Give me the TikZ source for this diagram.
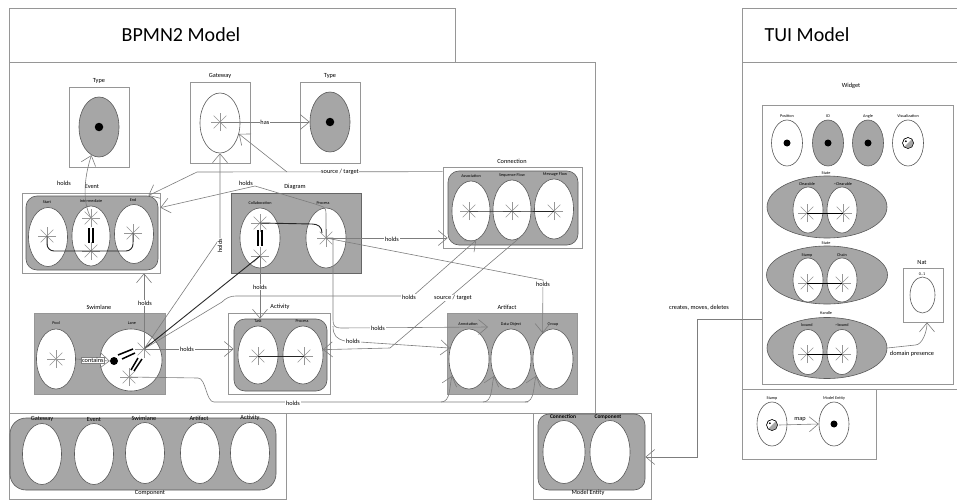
\documentclass[tikz,border=0pt]{standalone}
\usepackage{fontspec}
\setmainfont{Carlito}
\usetikzlibrary{arrows.meta,positioning,shapes.geometric,calc}
\definecolor{blobgray}{RGB}{166,166,166}
\definecolor{framegray}{RGB}{150,150,150}
\definecolor{linkgray}{RGB}{125,125,125}
\tikzset{
  spark/.pic={\foreach \r in {0,45,90,135}
    \draw[linkgray!80,line width=0.4pt] (\r:9) -- (\r+180:9);},
  stampico/.pic={
    \draw[fill=white,line width=0.4pt] (0,0) circle (5.5);
    \begin{scope}\clip (0,0) circle (5.5);
      \fill[blobgray] (-7,7) -- (7,-7) -- (7,7) -- cycle;\end{scope}
    \draw[line width=0.4pt] (0,0) circle (5.5);
    \fill (-2.2,-1.8) circle (1);}
}
\begin{document}
\begin{tikzpicture}[x=1pt,y=-1pt,font=\fontsize{6.3}{7.5}\selectfont,
  bx/.style={draw=framegray,line width=0.7pt,inner sep=0pt},
  gbx/.style={bx,fill=blobgray},
  blob/.style={draw=black!65,fill=blobgray,rounded corners=11pt,line width=0.6pt,inner sep=0pt},
  el/.style 2 args={ellipse,draw=black!65,fill=white,line width=0.6pt,inner sep=0pt,minimum width=#1,minimum height=#2},
  gel/.style 2 args={el={#1}{#2},fill=blobgray},
  blk/.style={circle,fill=black,inner sep=0pt,minimum size=#1},
  sm/.style={font=\fontsize{4.2}{5}\selectfont,inner sep=0.5pt},
  ttl/.style={font=\fontsize{20}{24}\selectfont},
  hl/.style={fill=white,inner sep=0.6pt},
  a/.style={draw=linkgray,line width=0.6pt,-{Straight Barb[length=9pt,width=15pt,line width=0.6pt]}},
  c/.style={draw=linkgray,line width=0.6pt},
  k/.style={draw=black!85,line width=0.9pt},
  bar/.style={draw=black,line width=1.5pt}]
\useasboundingbox (0,0) rectangle (957,500);

% frames
\node[bx,minimum width=446,minimum height=54] (bpHead) at (232,35) {};
\node[ttl] (bpTitle) at (181,35) {BPMN2 Model};
\node[bx,minimum width=586,minimum height=351] (bpBox) at (302,237.5) {};
\node[bx,minimum width=277,minimum height=86] (cmpBox) at (147.5,456) {};
\node[bx,minimum width=118,minimum height=86] (meBox) at (592,456) {};
\node[bx,minimum width=218,minimum height=54] (tuiHead) at (851,35) {};
\node[ttl] (tuiTitle) at (807,35) {TUI Model};
\node[bx,minimum width=218,minimum height=327] (tuiBox) at (851,225.5) {};
\node[bx,minimum width=191,minimum height=279] (wgBox) at (857.5,244.5) {};
\node (wgT) at (851,86) {Widget};
\node[bx,minimum width=134,minimum height=70] (stBox) at (809,424) {};

% Type / Gateway / Type
\node[bx,minimum width=60,minimum height=80] (tyBox) at (99,127) {};
\node (tyT) at (99,81) {Type};
\node[gel={40}{60}] (tyEl) at (99,127) {};
\node[blk=8.5] (tyDot) at (tyEl) {};
\node[bx,minimum width=60,minimum height=81] (gwBox) at (220,122.5) {};
\node (gwT) at (220,76) {Gateway};
\node[el={40}{60}] (gwEl) at (220,123) {};
\node[bx,minimum width=60,minimum height=81] (ty2Box) at (330,122.5) {};
\node (ty2T) at (330,76) {Type};
\node[gel={40}{60}] (ty2El) at (330,122) {};
\node[blk=8.5] (ty2Dot) at (ty2El) {};

% Event
\node[bx,minimum width=138,minimum height=80] (evBox) at (91,233) {};
\node (evT) at (92,187) {Event};
\node[blob,minimum width=132,minimum height=74] (evBlob) at (92,233) {};
\node[el={39}{59}] (evStart) at (48,237) {};
\node[el={38}{60}] (evInt) at (91,236) {};
\node[el={39}{59}] (evEnd) at (134,234) {};
\node[sm] (evStartT) at (47,202) {Start};
\node[sm] (evIntT) at (91,201) {Intermediate};
\node[sm] (evEndT) at (133,200) {End};

% Diagram
\node[bx,fill=blobgray,draw=black!60,minimum width=130,minimum height=80] (dgBox) at (296,233) {};
\node (dgT) at (295,187) {Diagram};
\node[el={40}{60}] (colEl) at (260,238) {};
\node[el={40}{60}] (procEl) at (326,238) {};
\node[sm] (colT) at (260,203) {Collaboration};
\node[sm] (procT) at (323,203) {Process};

% Connection
\node[bx,minimum width=139,minimum height=81] (cnBox) at (512.5,207.5) {};
\node (cnT) at (512,161) {Connection};
\node[blob,minimum width=130,minimum height=74] (cnBlob) at (513,208) {};
\node[el={38}{60}] (asEl) at (471,211) {};
\node[el={38}{60}] (sqEl) at (512,210) {};
\node[el={39}{60}] (mfEl) at (554,209) {};
\node[sm] (asT) at (471,176) {Association};
\node[sm] (sqT) at (512,175) {Sequence Flow};
\node[sm] (mfT) at (555,174) {Message Flow};

% Swimlane
\node[gbx,minimum width=131,minimum height=81] (swBox) at (99.5,353.5) {};
\node (swT) at (99,307) {Swimlane};
\node[el={39}{60}] (poolEl) at (56,359) {};
\node[el={62}{62}] (laneEl) at (131,360) {};
\node[sm] (poolT) at (56,323) {Pool};
\node[sm] (laneT) at (132,323) {Lane};
\node[blk=8] (laDot) at (114,361) {};

% Activity
\node[bx,minimum width=102,minimum height=81] (acBox) at (279,353.5) {};
\node (acT) at (280,307) {Activity};
\node[blob,minimum width=93,minimum height=72] (acBlob) at (280.5,355) {};
\node[el={40}{58}] (taskEl) at (258,355) {};
\node[el={40}{58}] (subEl) at (303,355) {};
\node[sm] (taskT) at (258,321) {Task};
\node[sm] (subT) at (302,321) {Process};

% Artifact
\node[gbx,minimum width=130,minimum height=81] (arBox) at (512,353.5) {};
\node (arT) at (507,307) {Artifact};
\node[el={40}{60}] (annEl) at (469,359) {};
\node[el={40}{60}] (doEl) at (511,359) {};
\node[el={40}{60}] (grpEl) at (553,359) {};
\node[sm] (annT) at (468,324) {Annotation};
\node[sm] (doT) at (511,324) {Data Object};
\node[sm] (grpT) at (553,324) {Group};

% Component
\node[blob,rounded corners=16pt,minimum width=266,minimum height=72] (cmpBlob) at (143,454) {};
\node[el={39}{61}] (cGw) at (42,454) {};
\node[el={39}{61}] (cEv) at (94,454) {};
\node[el={39}{61}] (cSw) at (145,453) {};
\node[el={39}{61}] (cAr) at (200,453) {};
\node[el={39}{61}] (cAc) at (250,453) {};
\node (cGwT) at (42,419) {Gateway};
\node (cEvT) at (94,419) {Event};
\node (cSwT) at (144,418) {Swimlane};
\node (cArT) at (199,418) {Artifact};
\node (cAcT) at (250,418) {Activity};
\node (cmpT) at (150,493) {Component};

% Model Entity
\node[blob,minimum width=107,minimum height=76] (meBlob) at (591.5,452) {};
\node[el={42}{63}] (meConEl) at (564,452) {};
\node[el={40}{63}] (meCmpEl) at (610,452) {};
\node[font=\bfseries\fontsize{5.5}{6}\selectfont] (meConT) at (563,417) {Connection};
\node[font=\bfseries\fontsize{5.5}{6}\selectfont] (meCmpT) at (608,417) {Component};
\node (meT) at (588,493) {Model Entity};

% TUI widget
\node[el={31}{46}] (posEl) at (787,143) {};
\node[blk=7] (posDot) at (posEl) {};
\node[gel={31}{46}] (idEl) at (828,143) {};
\node[blk=7] (idDot) at (idEl) {};
\node[gel={31}{46}] (angEl) at (868,143) {};
\node[blk=7] (angDot) at (angEl) {};
\node[el={31}{46}] (visEl) at (908,143) {};
\pic at (visEl) {stampico};
\node[sm] (posT) at (787,116) {Position};
\node[sm] (idT) at (828,116) {ID};
\node[sm] (angT) at (868,116) {Angle};
\node[sm] (visT) at (908,116) {Visualization};

\node[gel={120}{62}] (st1El) at (827,207) {};
\node[el={30}{46}] (clrEl) at (808,210) {};
\node[el={30}{46}] (nclrEl) at (842,210) {};
\node[sm] (st1T) at (826,173) {State};
\node[sm] (clrT) at (807,184) {Clearable};
\node[sm] (nclrT) at (843,184) {\textasciitilde Clearable};

\node[gel={121}{58}] (st2El) at (827,275) {};
\node[el={30}{44}] (stmEl) at (808,280) {};
\node[el={30}{44}] (chnEl) at (842,280) {};
\node[sm] (st2T) at (826,243) {State};
\node[sm] (stmT) at (807,255) {Stamp};
\node[sm] (chnT) at (842,255) {Chain};

\node[gel={120}{61}] (hdEl) at (827,348) {};
\node[el={30}{45}] (bndEl) at (808,352) {};
\node[el={30}{45}] (nbndEl) at (842,352) {};
\node[sm] (hdT) at (826,313) {Handle};
\node[sm] (bndT) at (807,325) {bound};
\node[sm] (nbndT) at (842,325) {\textasciitilde bound};

\node[bx,minimum width=40,minimum height=54] (natBox) at (923,295) {};
\node (natT) at (922,262) {Nat};
\node[sm] (natM) at (922,274) {0..1};
\node[el={25}{36}] (natEl) at (922.5,295) {};

% stamp / model entity
\node[el={30}{44}] (stEl) at (772,424) {};
\coordinate (stIco) at (772,425);
\pic at (stIco) {stampico};
\node[el={30}{44}] (meEl) at (834,424) {};
\node[blk=7] (meDot) at (meEl) {};
\node[sm] (stT) at (772,398) {Stamp};
\node[sm] (meElT) at (834,398) {Model Entity};

% stars
\coordinate (evS) at (47,236);
\coordinate (evI1) at (91,218);
\coordinate (evI2) at (91,251);
\coordinate (evE) at (133,233);
\coordinate (gwS) at (220,122);
\coordinate (coS1) at (260,223);
\coordinate (coS2) at (260,256);
\coordinate (prS) at (326,238);
\coordinate (asS) at (469,211);
\coordinate (sqS) at (512,211);
\coordinate (mfS) at (554,211);
\coordinate (poS) at (56,359);
\coordinate (laS1) at (144,349);
\coordinate (laS2) at (129,377);
\coordinate (tkS) at (258,356);
\coordinate (spS) at (304,356);
\coordinate (clrS) at (807,213);
\coordinate (nclrS) at (843,213);
\coordinate (stmS) at (807,283);
\coordinate (chnS) at (842,283);
\coordinate (bndS) at (807,354);
\coordinate (nbndS) at (842,354);
\foreach \s in {evS,evI1,evI2,evE,gwS,coS1,coS2,prS,asS,sqS,mfS,poS,laS1,laS2,tkS,spS,clrS,nclrS,stmS,chnS,bndS,nbndS}
  \pic at (\s) {spark};

% inner black links
\draw[k,rounded corners=7pt] (evS) -- ++(0,15) -| (evE);
\draw[bar] ($(evInt)+(-2,-8)$) -- +(0,15) ($(evInt)+(2,-8)$) -- +(0,15);
\draw[bar] ($(colEl)+(-2,-8)$) -- +(0,16) ($(colEl)+(2,-8)$) -- +(0,16);
\draw[k] (coS1) -- ++(52,1) .. controls +(6,0) and +(0,-6) .. ($(prS)+(-4,-5)$);
\draw[k] (asS) -- (sqS) -- (mfS);
\draw[k] (tkS) -- (spS);
\draw[bar] ($(laneEl)+(-13,-5)$) -- +(15,-6) ($(laneEl)+(-9,-1)$) -- +(13,-6);
\draw[bar] ($(laneEl)+(0,10)$) -- +(7,-12) ($(laneEl)+(3,11)$) -- +(8,-12);
\draw[k] (laS1) -- (coS2);
\draw[black,line width=0.5pt] (clrS) -- (nclrS) (stmS) -- (chnS) (bndS) -- (nbndS);

% connectors
\draw[a] (evI1) .. controls +(-10,-18) and +(-6,18) .. (tyEl.-105);
\node[hl] (hTy) at (64,183) {holds};
\draw[a] (gwS) -- (ty2El.west) node[midway,hl] (hHas) {has};
\coordinate (cnIn) at ($(cnBox.north west)+(0,5)$);
\draw[a] (cnIn) -- (197,172) -- ($(evBox.north east)+(-12,3)$);
\draw[a] (287,172) -- (gwEl.-30);
\node[hl] (hSt1) at (340,172) {source / target};
\draw[a] (prS) -- (326,214) .. controls +(0,-8) and +(8,3) .. (315,204) -- (255,186) -- ($(evBox.north east)+(0,15)$);
\node[hl] (hDgEv) at (246,183) {holds};
\draw[a] (laS1) -- (220,238) -- (gwEl.south);
\node[hl,rotate=90] (hGw) at (220,246) {holds};
\draw[a] (laS1) -- (laS1 |- evBox.south);
\node[hl] (hSwEv) at (145,303) {holds};
\draw[a] (laS1) -- (222,302) .. controls +(4,-4) and +(-6,0) .. (236,296) -- (413,296) -- (asEl.-80);
\node[hl] (hSwCn) at (409,297) {holds};
\draw[a] (laS1) -- (laS1 -| acBlob.west);
\node[hl] (hSwAc) at (187,349) {holds};
\draw[a] (coS2) -- (coS2 |- acBlob.north);
\node[hl] (hDgAc) at (260,287) {holds};
\draw[a] (poolEl.east) -- (laDot.west) node[midway,fill=white,draw=black!50,inner sep=0.8pt] (hCont) {contains};
\draw[a] (prS) -- (prS -| cnBlob.west);
\node[hl] (hDgCn) at (392,239) {holds};
\draw[a] (prS) -- (543,280) -- (grpEl.112);
\node[hl] (hDgGr) at (543,284) {holds};
\coordinate (annTip) at (488,327);
\draw[a] (prS) -| (333,320) .. controls +(0,6) and +(-6,0) .. (341,328) -- (annTip);
\node[hl] (hDgAn1) at (378,328) {holds};
\draw[a] (333,326) .. controls +(0,10) and +(-8,-2) .. (345,341) -- (annEl.150);
\node[hl] (hDgAn2) at (353,341) {holds};
\draw[a] (sqEl.-75) -- (390,348) -- (subEl.15);
\node[hl] (hSt2) at (453,298) {source / target};
\draw[c] (laS2) -- (198,378) .. controls +(8,0) and +(-8,0) .. (214,402) -- (528,402);
\draw[a] (441,402) .. controls +(10,0) and +(-3,10) .. (annEl.-135);
\draw[a] (483,402) .. controls +(10,0) and +(-3,10) .. (doEl.-135);
\draw[a] (525,402) .. controls +(10,0) and +(-3,10) .. (grpEl.-135);
\node[hl] (hSwAr) at (293,403) {holds};
\coordinate (wgOut) at (wgBox.west |- 0,319);
\draw[a] (wgOut) -- ++(-64,0) |- ($(meBlob.east)+(0,5)$);
\node (hCrt) at (699,308) {creates, moves, deletes};
\draw[a] (hdEl.east) -- ++(28,-3) .. controls +(7,0) and +(0,9) .. ($(natBox.south)+(4,0)$);
\node (hDom) at (912,354) {domain presence};
\draw[a] ($(stIco)+(7,0)$) -- (meEl.west);
\node[hl] (hMap) at (800,419) {map};
\end{tikzpicture}
\end{document}
